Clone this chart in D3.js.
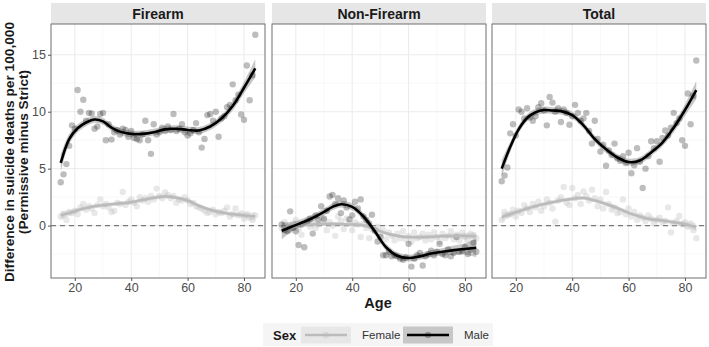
<!DOCTYPE html>
<html>
<head>
<meta charset="utf-8">
<script src="https://cdn.jsdelivr.net/npm/d3@7/dist/d3.min.js"></script>
<style>
  body { margin: 0; background: #fff; }
  text { font-family: "Liberation Sans", Arial, sans-serif; }
</style>
</head>
<body>
<svg id="chart" width="709" height="347"></svg>
<script>
// ages 15..84, one observation per year of age
const ages = [15,16,17,18,19,20,21,22,23,24,25,26,27,28,29,30,31,32,33,34,
  35,36,37,38,39,40,41,42,43,44,45,46,47,48,49,50,51,52,53,54,
  55,56,57,58,59,60,61,62,63,64,65,66,67,68,69,70,71,72,73,74,
  75,76,77,78,79,80,81,82,83,84];

const panels = ["Firearm", "Non-Firearm", "Total"];
const sexes = ["Female", "Male"];
const xTicks = [20, 40, 60, 80];
const yTicks = [0, 5, 10, 15];

// observed differences (permissive minus strict), per 100,000
const firearmMale = [3.8,4.5,5.4,7.0,8.8,8.5,11.9,10.0,11.05,9.2,9.9,9.85,8.5,8.7,9.8,9.9,7.5,8.9,7.55,8.2,
  8.4,8.0,8.5,8.4,7.8,8.3,7.7,7.6,7.5,8.0,9.2,7.5,6.3,8.9,8.0,8.2,8.6,8.3,8.7,8.4,
  9.8,8.3,8.5,8.9,8.2,7.9,8.1,8.4,9.0,8.2,6.85,7.6,9.7,9.8,9.2,10.0,7.8,9.4,9.6,10.4,
  10.6,12.4,11.0,11.5,9.75,9.3,14.05,11.0,13.2,16.75];
const firearmFemale = [0.8,1.0,0.5,1.2,1.1,1.3,1.0,1.6,1.9,1.4,1.7,1.5,1.1,1.8,2.3,1.7,1.9,1.6,1.2,1.3,
  2.0,1.9,2.95,1.8,2.1,2.3,2.0,1.7,2.5,2.2,2.4,2.1,2.6,2.3,3.25,2.6,2.4,2.9,2.7,2.4,
  2.6,2.0,2.3,2.2,2.5,2.2,1.9,2.0,1.7,1.6,1.5,1.3,1.1,1.2,1.4,1.0,1.2,1.1,1.3,1.6,
  0.8,1.0,1.5,0.9,1.1,0.6,1.0,0.7,0.5,0.9];
const nonFirearmMale = [0.1,-0.4,-0.5,1.25,-0.2,-0.5,-1.7,0.1,-1.9,0.3,0.6,-0.7,0.9,0.5,1.7,0.6,1.3,2.55,2.7,1.9,
  2.4,1.1,2.2,1.6,0.55,0.9,2.1,1.5,2.3,0.8,0.5,0.2,0.95,-0.4,-1.4,-1.0,-2.6,-2.6,-2.3,-2.7,
  -2.6,-2.7,-2.9,-3.0,-2.8,-1.6,-3.6,-2.9,-2.6,-2.4,-3.5,-2.7,-2.5,-2.2,-2.6,-2.3,-1.6,-2.5,-2.6,-2.1,
  -2.7,-2.4,-1.0,-2.3,-2.2,-1.9,-2.5,-2.1,-1.5,-2.3];
const nonFirearmFemale = [-0.2,0.3,-0.1,-0.4,0.2,0.5,-0.3,-0.8,0.2,0.4,-0.1,0.3,-0.2,0.1,0.7,0.5,-0.4,0.3,0.0,-0.9,
  0.8,0.4,-0.3,0.6,0.2,-0.4,0.3,0.1,-1.0,0.2,-0.2,-1.1,-0.3,-0.5,-0.1,-0.8,-0.4,-1.2,-0.6,-0.9,
  -1.3,-0.7,-1.1,-0.5,-1.2,-0.9,-1.4,-0.6,-1.1,-1.0,-0.7,-1.3,-0.8,-1.2,-0.6,-1.0,-1.4,-0.7,-1.1,-0.9,
  -0.5,-1.2,-0.8,-1.3,-0.6,-1.0,-1.2,-0.7,-0.9,-1.1];
const totalMale = [3.9,4.4,5.1,8.1,8.9,7.9,10.2,10.0,9.4,10.3,9.5,9.2,9.6,10.4,10.75,10.1,8.8,11.3,10.8,10.0,
  10.3,9.1,10.2,9.9,8.85,9.6,10.6,9.9,9.2,9.4,9.9,8.3,7.2,9.2,7.6,6.5,7.1,5.25,6.6,6.2,
  7.2,5.9,5.7,6.1,5.5,6.4,4.6,5.3,6.8,5.6,3.3,5.0,6.1,7.4,6.8,7.4,5.6,7.7,8.35,7.9,
  8.6,9.9,9.0,9.4,7.5,7.0,11.6,8.9,11.4,14.5];
const totalFemale = [0.5,1.2,0.9,1.0,1.4,0.8,1.3,1.1,1.8,1.5,1.2,1.9,1.6,2.1,1.3,1.7,2.3,2.0,1.5,0.35,
  2.2,2.5,3.4,2.0,1.8,3.3,2.4,2.7,1.9,3.0,2.6,2.2,3.15,2.4,1.7,2.3,1.5,2.95,1.9,1.4,
  1.6,1.1,1.2,2.3,1.0,1.5,0.8,1.2,0.5,0.9,0.7,0.4,0.9,0.6,0.2,0.5,0.7,0.3,0.4,1.6,
  -0.6,0.2,0.4,0.85,0.1,0.3,-0.1,0.2,-0.4,-1.1];

// smoothed fits and their standard-error half widths
const fitAges = [15,18,21,24,27,30,33,36,40,44,48,52,56,60,64,68,72,76,80,84];
const fitFirearmMale = [5.5,7.6,8.55,9.05,9.32,9.15,8.6,8.25,8.05,8.05,8.2,8.45,8.5,8.4,8.35,8.7,9.4,10.5,12.1,13.8];
const fitFirearmFemale = [0.9,1.1,1.35,1.55,1.7,1.8,1.88,1.95,2.05,2.25,2.45,2.55,2.45,2.2,1.75,1.4,1.15,1.0,0.9,0.8];
const fitNonFirearmMale = [-0.45,-0.15,0.15,0.45,0.8,1.2,1.65,1.88,1.65,0.8,-0.5,-1.9,-2.65,-2.85,-2.7,-2.45,-2.3,-2.15,-2.05,-1.95];
const fitNonFirearmFemale = [-0.25,-0.1,0.0,0.07,0.12,0.15,0.15,0.13,0.1,0.02,-0.3,-0.68,-0.9,-1.0,-1.02,-0.98,-0.92,-0.9,-0.9,-0.92];
const fitTotalMale = [5.0,6.9,8.45,9.45,9.95,10.15,10.1,10.05,9.7,8.8,7.6,6.7,5.98,5.58,5.72,6.42,7.28,8.6,10.15,11.9];
const fitTotalFemale = [0.75,1.0,1.25,1.5,1.7,1.9,2.05,2.2,2.35,2.42,2.2,1.9,1.55,1.12,0.8,0.55,0.45,0.3,0.12,-0.15];
const seMale = [0.75,0.45,0.35,0.32,0.3,0.3,0.3,0.3,0.3,0.3,0.3,0.3,0.3,0.3,0.3,0.3,0.32,0.4,0.5,0.8];
const seFemale = [0.35,0.25,0.2,0.18,0.17,0.17,0.17,0.17,0.17,0.17,0.17,0.17,0.17,0.17,0.17,0.17,0.18,0.2,0.25,0.35];

const points = {
  "Firearm": { Female: firearmFemale, Male: firearmMale },
  "Non-Firearm": { Female: nonFirearmFemale, Male: nonFirearmMale },
  "Total": { Female: totalFemale, Male: totalMale }
};
const fits = {
  "Firearm": { Female: fitFirearmFemale, Male: fitFirearmMale },
  "Non-Firearm": { Female: fitNonFirearmFemale, Male: fitNonFirearmMale },
  "Total": { Female: fitTotalFemale, Male: fitTotalMale }
};
const ses = { Female: seFemale, Male: seMale };

const style = {
  Female: { line: "#bbbbbb", point: "#bdbdbd", pointOp: 0.35, ribbon: "#bbbbbb", ribbonOp: 0.35 },
  Male:   { line: "#000000", point: "#000000", pointOp: 0.26, ribbon: "#000000", ribbonOp: 0.22 }
};

const svg = d3.select("#chart");
const panelLeft = [51, 272, 492];
const panelW = 214;
const plotTop = 24, plotBottom = 278;

const y = d3.scaleLinear().domain([-4.6, 17.7]).range([plotBottom, plotTop]);

panels.forEach((name, i) => {
  const x = d3.scaleLinear().domain([11.55, 87.45]).range([panelLeft[i], panelLeft[i] + panelW]);
  const g = svg.append("g");

  // strip
  g.append("rect").attr("x", panelLeft[i]).attr("y", 3).attr("width", panelW).attr("height", plotTop - 3)
    .attr("fill", "#e6e6e6");
  g.append("text").attr("x", panelLeft[i] + panelW / 2).attr("y", 18.5)
    .attr("text-anchor", "middle").attr("font-size", 14).attr("font-weight", "bold")
    .attr("fill", "#1a1a1a").text(name);

  // grid
  const minorX = [30, 50, 70], minorY = [-2.5, 2.5, 7.5, 12.5];
  g.selectAll(".mx").data(minorX).join("line")
    .attr("x1", d => x(d)).attr("x2", d => x(d)).attr("y1", plotTop).attr("y2", plotBottom)
    .attr("stroke", "#f4f4f4").attr("stroke-width", 0.6);
  g.selectAll(".my").data(minorY).join("line")
    .attr("y1", d => y(d)).attr("y2", d => y(d)).attr("x1", panelLeft[i]).attr("x2", panelLeft[i] + panelW)
    .attr("stroke", "#f4f4f4").attr("stroke-width", 0.6);
  g.selectAll(".gx").data(xTicks).join("line")
    .attr("x1", d => x(d)).attr("x2", d => x(d)).attr("y1", plotTop).attr("y2", plotBottom)
    .attr("stroke", "#ebebeb").attr("stroke-width", 1);
  g.selectAll(".gy").data(yTicks).join("line")
    .attr("y1", d => y(d)).attr("y2", d => y(d)).attr("x1", panelLeft[i]).attr("x2", panelLeft[i] + panelW)
    .attr("stroke", "#ebebeb").attr("stroke-width", 1);

  // reference line at zero
  g.append("line").attr("x1", panelLeft[i]).attr("x2", panelLeft[i] + panelW)
    .attr("y1", y(0)).attr("y2", y(0))
    .attr("stroke", "#7a7a7a").attr("stroke-width", 1.2).attr("stroke-dasharray", "5,4");

  // observations
  sexes.forEach(s => {
    g.selectAll(".pt-" + s).data(points[name][s]).join("circle")
      .attr("class", "pt-" + s)
      .attr("cx", (d, j) => x(ages[j])).attr("cy", d => y(d)).attr("r", 3.2)
      .attr("fill", style[s].point).attr("fill-opacity", style[s].pointOp);
  });

  // smooth fits with confidence band
  sexes.forEach(s => {
    const fit = fits[name][s], se = ses[s];
    const rows = fitAges.map((a, j) => ({ a, v: fit[j], lo: fit[j] - se[j], hi: fit[j] + se[j] }));
    g.append("path").datum(rows)
      .attr("d", d3.area().x(d => x(d.a)).y0(d => y(d.lo)).y1(d => y(d.hi)).curve(d3.curveCatmullRom))
      .attr("fill", style[s].ribbon).attr("fill-opacity", style[s].ribbonOp);
    g.append("path").datum(rows)
      .attr("d", d3.line().x(d => x(d.a)).y(d => y(d.v)).curve(d3.curveCatmullRom))
      .attr("fill", "none").attr("stroke", style[s].line).attr("stroke-width", 2.6);
  });

  // panel border
  g.append("rect").attr("x", panelLeft[i]).attr("y", plotTop).attr("width", panelW).attr("height", plotBottom - plotTop)
    .attr("fill", "none").attr("stroke", "#6e6e6e").attr("stroke-width", 1);

  // x axis
  const ax = g.append("g").attr("transform", `translate(0,${plotBottom})`)
    .call(d3.axisBottom(x).tickValues(xTicks).tickSize(3).tickPadding(2));
  ax.select(".domain").remove();
  ax.selectAll("line").attr("stroke", "#555");
  ax.selectAll("text").attr("font-size", 12.5).attr("fill", "#4d4d4d")
    .attr("font-family", "Liberation Sans, Arial, sans-serif");

  if (i === 0) {
    const ay = g.append("g").attr("transform", `translate(${panelLeft[0]},0)`)
      .call(d3.axisLeft(y).tickValues(yTicks).tickSize(3).tickPadding(2));
    ay.select(".domain").remove();
    ay.selectAll("line").attr("stroke", "#555");
    ay.selectAll("text").attr("font-size", 12.5).attr("fill", "#4d4d4d")
      .attr("font-family", "Liberation Sans, Arial, sans-serif");
  }
});

// axis titles
svg.append("text").attr("x", 378).attr("y", 307.5).attr("text-anchor", "middle")
  .attr("font-size", 14.5).attr("font-weight", "bold").attr("fill", "#1a1a1a").text("Age");
const yTitle = svg.append("text").attr("transform", "translate(14,152) rotate(-90)")
  .attr("text-anchor", "middle").attr("font-size", 13.7).attr("font-weight", "bold").attr("fill", "#1a1a1a");
yTitle.append("tspan").attr("x", 0).attr("dy", 0).text("Difference in suicide deaths per 100,000");
yTitle.append("tspan").attr("x", 0).attr("dy", 13.5).text("(Permissive minus Strict)");

// legend
const lg = svg.append("g");
lg.append("rect").attr("x", 263).attr("y", 323).attr("width", 230).attr("height", 23).attr("fill", "#f5f5f5");
lg.append("text").attr("x", 273).attr("y", 339.5).attr("font-size", 13).attr("font-weight", "bold")
  .attr("fill", "#1a1a1a").text("Sex");
const keyX = { Female: 301, Male: 403 };
sexes.forEach(s => {
  const kx = keyX[s];
  lg.append("rect").attr("x", kx).attr("y", 326.5).attr("width", 50).attr("height", 17)
    .attr("fill", "#fff");
  lg.append("rect").attr("x", kx).attr("y", 326.5).attr("width", 50).attr("height", 17)
    .attr("fill", style[s].ribbon).attr("fill-opacity", style[s].ribbonOp);
  lg.append("line").attr("x1", kx + 4).attr("x2", kx + 46).attr("y1", 335).attr("y2", 335)
    .attr("stroke", style[s].line).attr("stroke-width", 2.6);
  lg.append("circle").attr("cx", kx + 25).attr("cy", 335).attr("r", 3.2)
    .attr("fill", style[s].point).attr("fill-opacity", style[s].pointOp);
  lg.append("text").attr("x", kx + 61).attr("y", 339).attr("font-size", 11.5).attr("fill", "#333")
    .text(s);
});
</script>
</body>
</html>
